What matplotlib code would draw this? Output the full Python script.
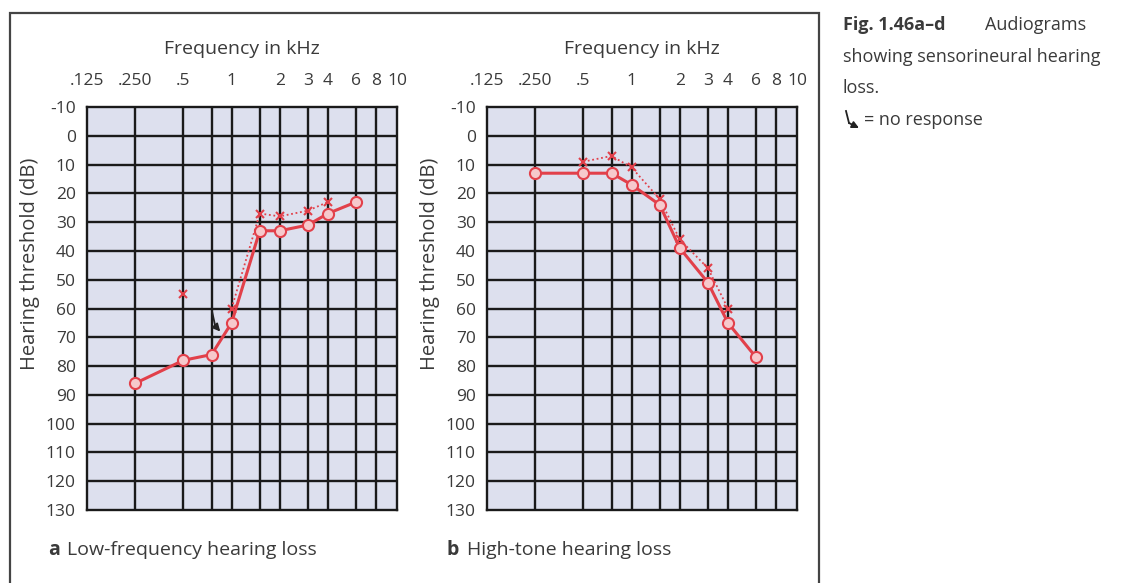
"""Two audiograms (sensorineural hearing loss) side by side with a caption."""

import matplotlib
matplotlib.use("Agg")
import matplotlib.pyplot as plt
from matplotlib.patches import Rectangle, FancyArrowPatch

plt.rcParams["font.family"] = ["Open Sans", "DejaVu Sans"]
plt.rcParams["axes.unicode_minus"] = False  # the source prints "-10" with a hyphen

# Frequency axis (Hz)
tick_freqs = [125, 250, 500, 1000, 2000, 3000, 4000, 6000, 8000, 10800]
tick_labels = [".125", ".250", ".5", "1", "2", "3", "4", "6", "8", "10"]
grid_freqs = [250, 500, 750, 1000, 1500, 2000, 3000, 4000, 6000, 8000]
db_ticks = list(range(-10, 131, 10))

# Panel a: low-frequency hearing loss
a_bone_f = [250, 500, 750, 1000, 1500, 2000, 3000, 4000, 6000]
a_bone_db = [86, 78, 76, 65, 33, 33, 31, 27, 23]
a_air_f = [1000, 1500, 2000, 3000, 4000]
a_air_db = [60, 27, 28, 26, 23]
a_single_f = [500]
a_single_db = [55]
# "no response" symbol near 750 Hz: stroke start, bend, arrow tip
a_noresp_f = [755, 790, 850]
a_noresp_db = [61, 66, 68]

# Panel b: high-tone hearing loss
b_bone_f = [250, 500, 750, 1000, 1500, 2000, 3000, 4000, 6000]
b_bone_db = [13, 13, 13, 17, 24, 39, 51, 65, 77]
b_air_f = [500, 750, 1000, 1500, 2000, 3000, 4000]
b_air_db = [9, 7, 11, 22, 36, 46, 60]

RED = "#e2404a"
PINK = "#f6c9cc"
BG = "#dde0ee"
TXT = "#3a3a3a"


def draw_audiogram(ax, bone_f, bone_db, air_f, air_db):
    ax.set_facecolor(BG)
    ax.set_xscale("log")
    ax.set_xlim(125, 10800)
    ax.set_ylim(130, -10)
    for f in grid_freqs:
        ax.axvline(f, color="#1a1a1a", lw=1.7, zorder=1)
    for d in db_ticks[1:-1]:
        ax.axhline(d, color="#1a1a1a", lw=1.7, zorder=1)
    for s in ax.spines.values():
        s.set_color("#1a1a1a")
        s.set_linewidth(1.7)
    ax.xaxis.set_ticks_position("top")
    ax.set_xticks(tick_freqs)
    ax.set_xticklabels(tick_labels)
    ax.minorticks_off()
    ax.set_yticks(db_ticks)
    ax.tick_params(length=0, labelsize=12.5, colors=TXT)
    ax.tick_params(axis="x", pad=13)
    ax.tick_params(axis="y", pad=8)
    ax.set_xlabel("Frequency in kHz", fontsize=14, color=TXT, labelpad=14)
    ax.xaxis.set_label_position("top")
    ax.set_ylabel("Hearing threshold (dB)", fontsize=14.5, color=TXT)
    ax.yaxis.set_label_coords(-0.15, 0.61)  # label sits above the axis middle

    ax.plot(air_f, air_db, color=RED, lw=1.3, ls=(0, (1, 1.5)),
            marker="x", ms=6, mew=1.5, zorder=3)
    ax.plot(bone_f, bone_db, color=RED, lw=2.2, marker="o", ms=8,
            mfc=PINK, mec=RED, mew=1.5, zorder=4)


fig = plt.figure(figsize=(11.24, 5.83), dpi=100)
W, H = 1124, 583

ax_a = fig.add_axes([87 / W, 1 - 510 / H, 310 / W, 403 / H])
ax_b = fig.add_axes([487 / W, 1 - 510 / H, 310 / W, 403 / H])

draw_audiogram(ax_a, a_bone_f, a_bone_db, a_air_f, a_air_db)
draw_audiogram(ax_b, b_bone_f, b_bone_db, b_air_f, b_air_db)

# isolated air-conduction point and the "no response" arrow in panel a
ax_a.plot(a_single_f, a_single_db, color=RED, ls="none", marker="x", ms=6, mew=1.5, zorder=3)
ax_a.plot(a_noresp_f[:2], a_noresp_db[:2], color="#222", lw=1.3, zorder=5)
ax_a.annotate("", xy=(a_noresp_f[2], a_noresp_db[2]),
              xytext=(a_noresp_f[1], a_noresp_db[1]),
              arrowprops=dict(arrowstyle="-|>", color="#222", lw=1.3,
                              mutation_scale=11, shrinkA=0, shrinkB=0), zorder=5)

# panel captions
fig.text(48 / W, 1 - 550 / H, "a", fontsize=14, weight="bold", color=TXT, va="center")
fig.text(67 / W, 1 - 550 / H, "Low-frequency hearing loss", fontsize=14, color=TXT, va="center")
fig.text(447 / W, 1 - 550 / H, "b", fontsize=14, weight="bold", color=TXT, va="center")
fig.text(467 / W, 1 - 550 / H, "High-tone hearing loss", fontsize=14, color=TXT, va="center")

# outer frame around both panels
fig.patches.append(Rectangle((10 / W, -0.02), 809 / W, 1.02 - 13 / H,
                             transform=fig.transFigure, fill=False,
                             ec="#444", lw=1.6))

# figure caption on the right
fig.text(843 / W, 1 - 25 / H, "Fig. 1.46a–d", fontsize=13, weight="bold", color=TXT, va="center")
fig.text(985 / W, 1 - 25 / H, "Audiograms", fontsize=13, color=TXT, va="center")
fig.text(843 / W, 1 - 57 / H, "showing sensorineural hearing", fontsize=13, color=TXT, va="center")
fig.text(843 / W, 1 - 88 / H, "loss.", fontsize=13, color=TXT, va="center")
fig.text(864 / W, 1 - 120 / H, "= no response", fontsize=13, color=TXT, va="center")
fig.lines.append(plt.Line2D([846 / W, 849 / W], [1 - 111 / H, 1 - 123 / H],
                            transform=fig.transFigure, color="#222", lw=1.3))
fig.patches.append(FancyArrowPatch(
    (849 / W, 1 - 123 / H), (859 / W, 1 - 128 / H), transform=fig.transFigure,
    arrowstyle="-|>", mutation_scale=10, color="#222", lw=1.3,
    shrinkA=0, shrinkB=0))

fig.savefig("out.png", dpi=100)
